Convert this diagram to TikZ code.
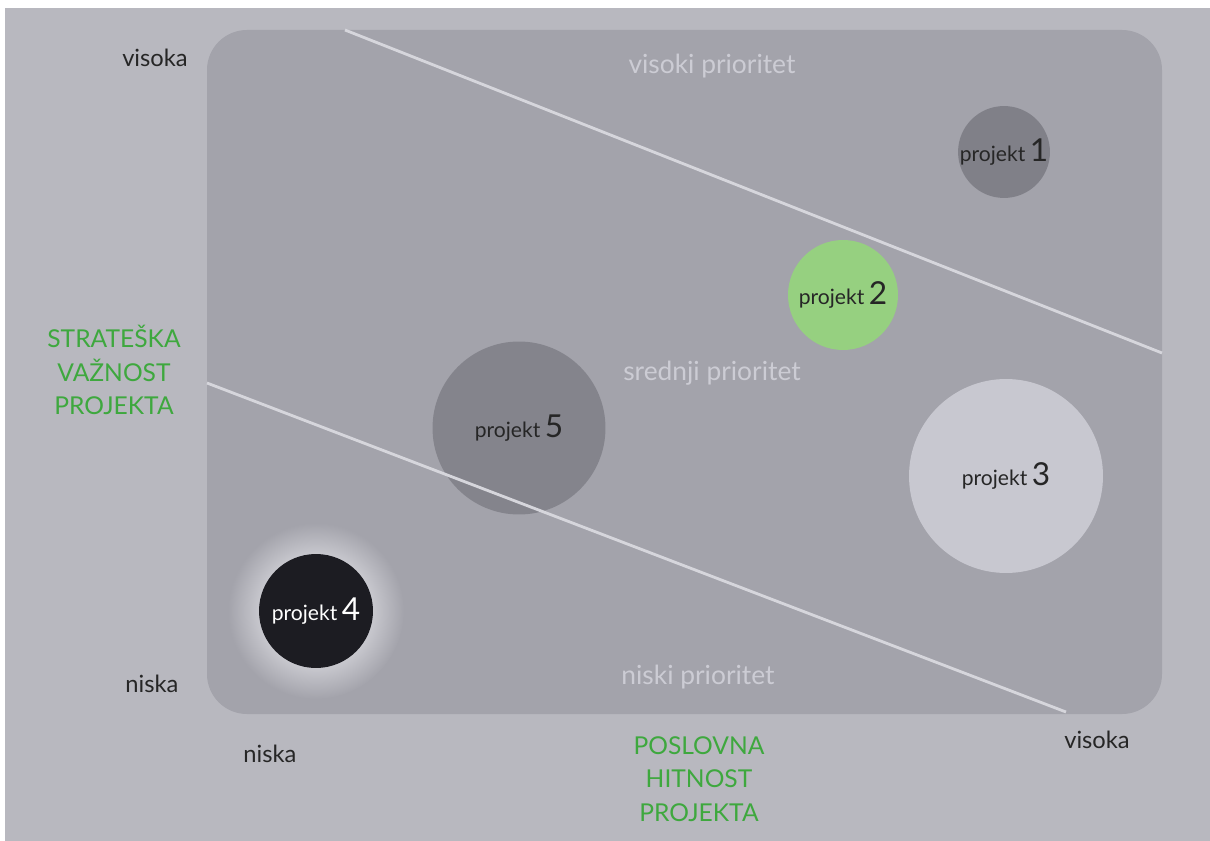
\documentclass[tikz,border=0pt]{standalone}
\usepackage{fontspec}
\setmainfont{Lato}
\usepackage{tikz}
\usetikzlibrary{shapes.geometric}

\definecolor{paper}{RGB}{184,184,191}
\definecolor{board}{RGB}{163,163,171}
\definecolor{halo}{RGB}{204,204,210}
\definecolor{zoneline}{RGB}{214,214,220}
\definecolor{zonetext}{RGB}{204,204,212}
\definecolor{axisgreen}{RGB}{62,168,62}
\definecolor{proj1}{RGB}{128,128,136}
\definecolor{proj2}{RGB}{150,208,128}
\definecolor{proj3}{RGB}{200,200,208}
\definecolor{proj5}{RGB}{132,132,140}
\definecolor{proj4}{RGB}{28,28,34}

\pgfdeclareradialshading{glow}{\pgfpoint{0cm}{0cm}}{color(0bp)=(halo); color(15bp)=(halo); color(25bp)=(board); color(50bp)=(board)}

\tikzstyle{bubble} = [circle, inner sep=0pt, text=black!85]
\tikzstyle{level} = [text=black!85, font=\fontsize{13.5}{15}\selectfont]
\tikzstyle{axis} = [text=axisgreen, align=center, font=\fontsize{14}{19}\selectfont]
\tikzstyle{zone} = [text=zonetext, font=\fontsize{15}{16}\selectfont]
\tikzstyle{divider} = [zoneline, line width=1.6pt]

\newcommand{\projlabel}[1]{{\fontsize{12}{13}\selectfont projekt} {\fontsize{18}{19}\selectfont #1}}

\begin{document}
\begin{tikzpicture}[x=0.02cm, y=-0.02cm]

\useasboundingbox (0,0) rectangle (1210,841);
\fill[white] (0,0) rectangle (1210,841);
\fill[paper] (5,8) rectangle (1210,841);

% Board
\fill[board, rounded corners=0.8cm] (207,30) rectangle (1162,714);

% Zone dividers
\coordinate (d1s) at (345,30);
\coordinate (d1e) at (1162,353);
\coordinate (d2s) at (207,383);
\coordinate (d2e) at (1066,712);

% Zones
\node (high) [zone] at (712,66) {visoki prioritet};
\node (mid) [zone] at (712,373) {srednji prioritet};
\node (low) [zone] at (698,677) {niski prioritet};

% Glow round project 4
\shade[shading=glow] (316,611) circle (88);

% Projects
\node (p1) [bubble, fill=proj1, minimum size=1.8cm] at (1004,152) {\projlabel{1}};
\node (p2) [bubble, fill=proj2, minimum size=2.2cm] at (843,295) {\projlabel{2}};
\node (p3) [bubble, fill=proj3, minimum size=3.88cm] at (1006,476) {\projlabel{3}};
\node (p5) [bubble, fill=proj5, minimum size=3.46cm] at (519,428) {};
\node (p4) [bubble, fill=proj4, minimum size=2.28cm, text=white] at (316,611) {\projlabel{4}};

\draw[divider] (d1s) -- (d1e);
\draw[divider] (d2s) -- (d2e);
\node (p5label) at (p5) [text=black!85] {\projlabel{5}};

% Axes
\node (yhigh) [level] at (155,58) {visoka};
\node (ylow) [level] at (152,684) {niska};
\node (xlow) [level] at (270,754) {niska};
\node (xhigh) [level] at (1097,740) {visoka};
\node (yaxis) [axis] at (114,370) {STRATEŠKA\\VAŽNOST\\PROJEKTA};
\node (xaxis) [axis] at (699,779) {POSLOVNA\\HITNOST\\PROJEKTA};

\end{tikzpicture}
\end{document}
